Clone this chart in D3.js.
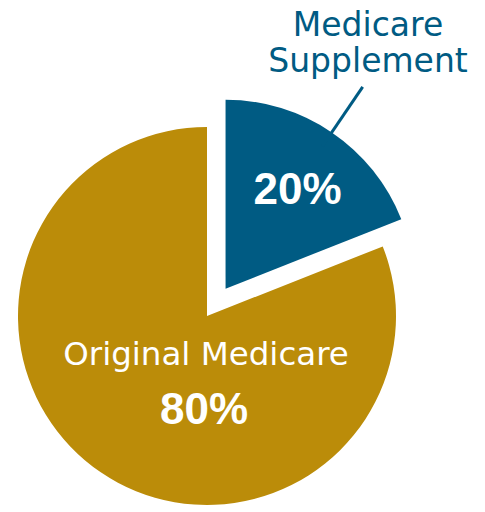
<!DOCTYPE html>
<html>
<head>
<meta charset="utf-8">
<script src="https://cdn.jsdelivr.net/npm/d3@7"></script>
<style>
    body { margin: 0; background: #fff; }
</style>
</head>
<body>
<script>
// Slice data (blue wedge spans about 68 degrees)
var categories = ["Medicare Supplement", "Original Medicare"];
var shares = [19, 81];
var shareLabels = ["20%", "80%"];
var colors = ["#005b83", "#bb8c09"];

function createPieChart() {
    var width = 485, height = 512;
    var cx = 207, cy = 316, radius = 189;
    var explode = 33;

    var svg = d3.select("body").append("svg")
        .attr("width", width)
        .attr("height", height);

    var pie = d3.pie()
        .sort(null)
        .value(function (d) { return d; });

    var arc = d3.arc()
        .innerRadius(0)
        .outerRadius(radius);

    var slices = pie(shares);

    // offset for a slice, pulled out along its middle angle
    function offset(d, dist) {
        var a = (d.startAngle + d.endAngle) / 2;
        return [Math.sin(a) * dist, -Math.cos(a) * dist];
    }

    var g = svg.append("g")
        .attr("transform", "translate(" + cx + "," + cy + ")");

    // Draw slices, first one is exploded
    g.selectAll("path.slice")
        .data(slices)
        .enter().append("path")
        .attr("class", "slice")
        .attr("d", arc)
        .attr("fill", function (d, i) { return colors[i]; })
        .attr("transform", function (d, i) {
            var o = i === 0 ? offset(d, explode) : [0, 0];
            return "translate(" + o[0] + "," + o[1] + ")";
        });

    // Leader line and label for the small slice
    var blue = slices[0];
    var o = offset(blue, explode);
    var p1 = offset(blue, 172), p2 = offset(blue, 244);
    g.append("line")
        .attr("x1", o[0] + p1[0]).attr("y1", o[1] + p1[1])
        .attr("x2", o[0] + p2[0]).attr("y2", o[1] + p2[1])
        .attr("stroke", colors[0])
        .attr("stroke-width", 3);

    var words = ["Medicare", "Supplement"];
    svg.append("text")
        .attr("x", 368)
        .attr("y", 36)
        .attr("text-anchor", "middle")
        .style("font-family", "'DejaVu Sans', sans-serif")
        .style("font-size", "33px")
        .attr("fill", colors[0])
        .selectAll("tspan")
        .data(words)
        .enter().append("tspan")
        .attr("x", 368)
        .attr("dy", function (d, i) { return i === 0 ? 0 : 35.7; })
        .text(function (d) { return d; });

    // percent inside the blue slice
    var labelPos = d3.arc().innerRadius(121).outerRadius(121).centroid(blue);
    g.append("text")
        .attr("x", o[0] + labelPos[0] + 4)
        .attr("y", o[1] + labelPos[1])
        .attr("dy", "0.36em")
        .attr("text-anchor", "middle")
        .style("font-family", "'Liberation Sans', Arial, sans-serif")
        .style("font-weight", "bold")
        .style("font-size", "44px")
        .attr("fill", "#fff")
        .text(shareLabels[0]);

    // labels inside the gold slice
    g.append("text")
        .attr("x", -1)
        .attr("y", 49)
        .attr("text-anchor", "middle")
        .style("font-family", "'DejaVu Sans', sans-serif")
        .style("font-size", "32.5px")
        .attr("fill", "#fff")
        .text(categories[1]);

    g.append("text")
        .attr("x", -3)
        .attr("y", 108)
        .attr("text-anchor", "middle")
        .style("font-family", "'Liberation Sans', Arial, sans-serif")
        .style("font-weight", "bold")
        .style("font-size", "44px")
        .attr("fill", "#fff")
        .text(shareLabels[1]);
}

createPieChart();
</script>
</body>
</html>
